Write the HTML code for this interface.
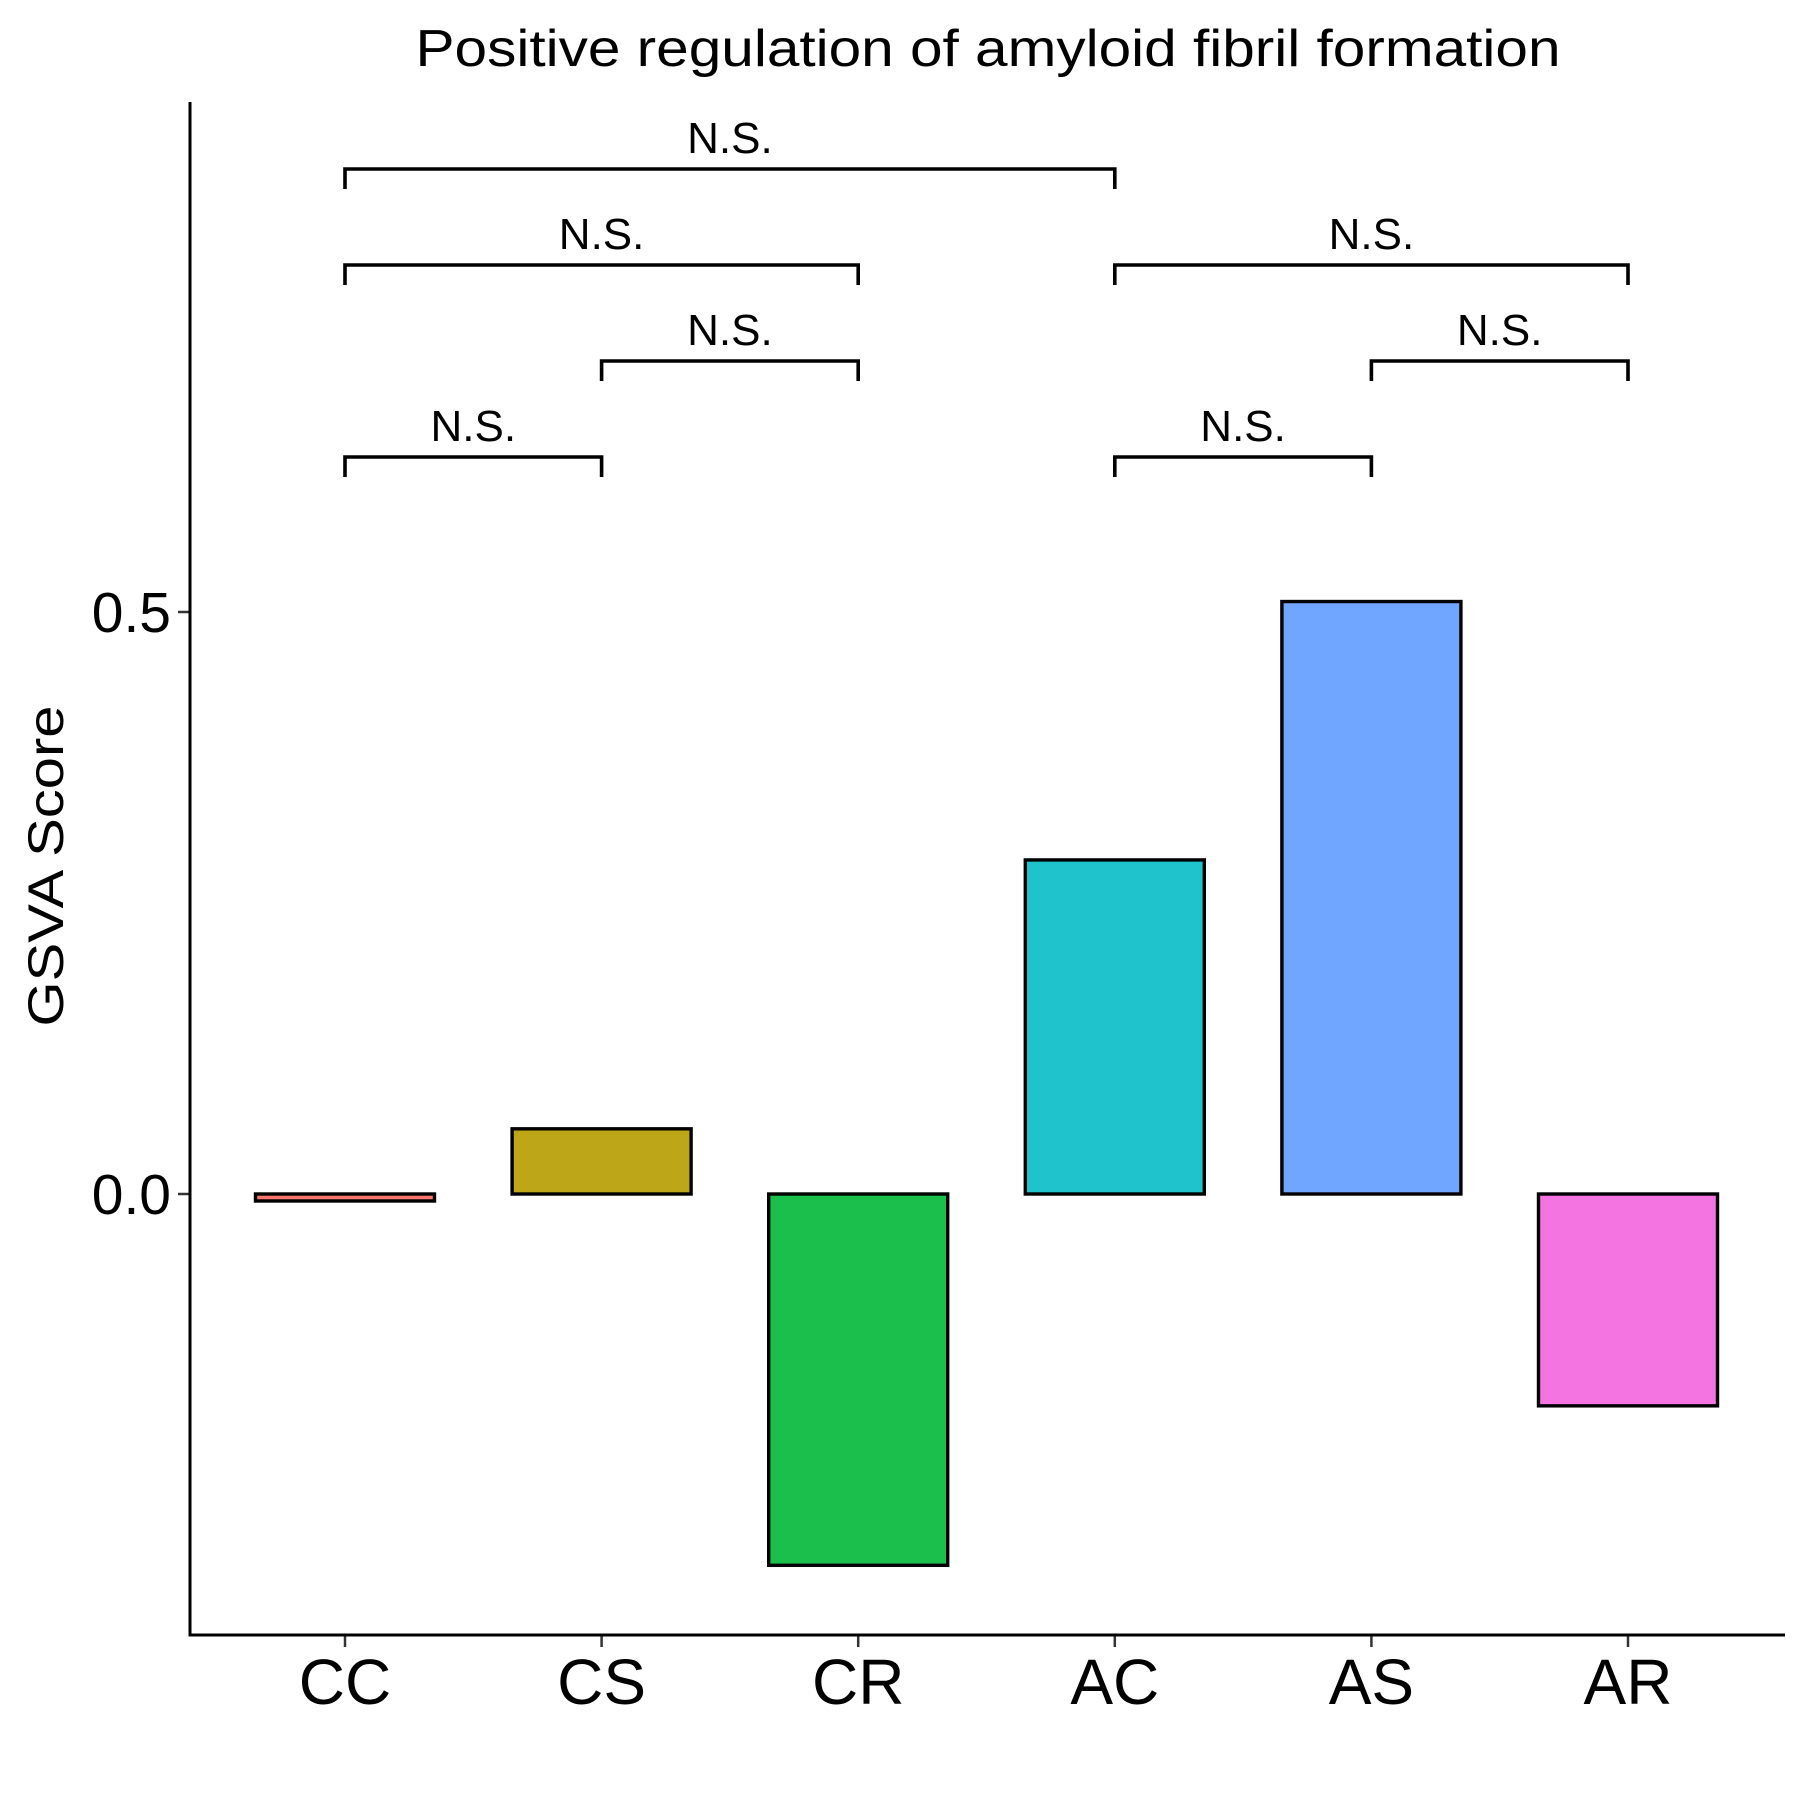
<!DOCTYPE html>
<html><head><meta charset="utf-8"><style>
html,body{margin:0;padding:0;background:#fff;}
svg text{font-family:"Liberation Sans",Arial,sans-serif;fill:#000;}
</style></head><body>
<svg id="chart" width="1800" height="1800" viewBox="0 0 1800 1800" xmlns="http://www.w3.org/2000/svg">
<text x="988" y="66" text-anchor="middle" font-size="52" textLength="1145" lengthAdjust="spacingAndGlyphs">Positive regulation of amyloid fibril formation</text>
<text transform="translate(63,866) rotate(-90)" text-anchor="middle" font-size="50" textLength="321" lengthAdjust="spacingAndGlyphs">GSVA Score</text>
<g id="plot"></g>
</svg>
<script>
const categories = ["CC","CS","CR","AC","AS","AR"];
const values = [-0.006, 0.056, -0.319, 0.287, 0.509, -0.182];
const colors = ["#F8766D","#BDA718","#1BBF4C","#1EC3CC","#70A6FF","#F475E2"];
const yTicks = [0.0, 0.5];
const yTickLabels = ["0.0","0.5"];
const compFrom = ["CC","CS","AC","AS","CC","AC","CC"];
const compTo = ["CS","CR","AS","AR","CR","AR","AC"];
const compLevel = [0,1,0,1,2,2,3];
const compLabel = ["N.S.","N.S.","N.S.","N.S.","N.S.","N.S.","N.S."];

const NS = "http://www.w3.org/2000/svg";
const g = document.getElementById('plot');
const x0 = 345, step = 256.6;
function xPos(c){ return x0 + categories.indexOf(c)*step; }
function yPos(v){ return 1194 - v*1164; }
function bracketY(l){ return 457 - l*96; }
function mk(tag, attrs){ const e=document.createElementNS(NS,tag); for(const k in attrs) e.setAttribute(k,attrs[k]); g.appendChild(e); return e; }

const barW = 179;
categories.forEach((c,i)=>{
  const yTop = yPos(Math.max(0,values[i])), yBot = yPos(Math.min(0,values[i]));
  const r = mk('rect',{x:xPos(c)-barW/2, y:yTop, width:barW, height:Math.max(yBot-yTop,1), fill:colors[i], stroke:'#000','stroke-width':3.4});
  
  
  const t = mk('line',{x1:xPos(c),x2:xPos(c),y1:1635,y2:1647,stroke:'#333','stroke-width':2.5});
  
  
  const lb = mk('text',{x:xPos(c),y:1704,'text-anchor':'middle','font-size':64});
  lb.textContent = c;
  
  
});
yTicks.forEach((v,i)=>{
  const t = mk('line',{x1:178,x2:190,y1:yPos(v),y2:yPos(v),stroke:'#333','stroke-width':2.5});
  
  
  const lb = mk('text',{x:171,y:yPos(v)+20,'text-anchor':'end','font-size':57});
  lb.textContent = yTickLabels[i];
  
  
});
const ax = mk('path',{d:'M190,102 V1635 H1785',fill:'none',stroke:'#000','stroke-width':3});


compFrom.forEach((f,i)=>{
  const xa = xPos(f), xb = xPos(compTo[i]), y = bracketY(compLevel[i]);
  const p = mk('path',{d:`M${xa},${y+20} V${y} H${xb} V${y+20}`,fill:'none',stroke:'#000','stroke-width':3.6});
  
  
  const t = mk('text',{x:(xa+xb)/2,y:y-16,'text-anchor':'middle','font-size':44});
  t.textContent = compLabel[i];
  
  
});
</script>
</body></html>
